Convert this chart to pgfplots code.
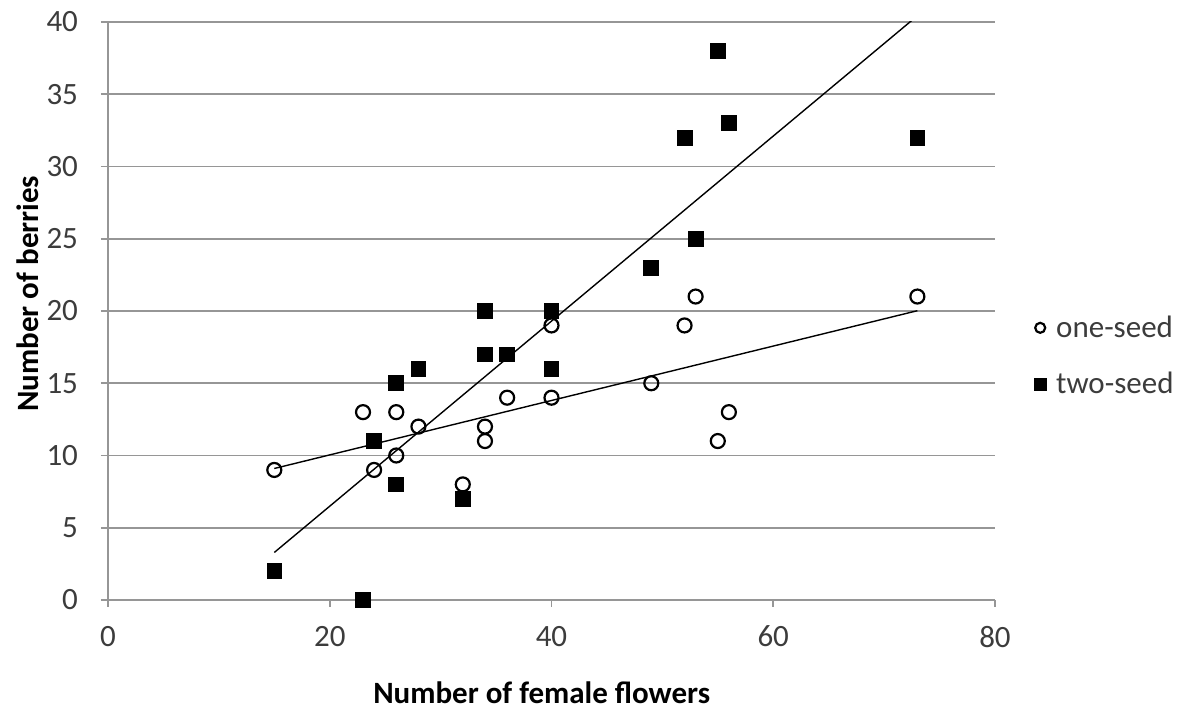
\documentclass[border=0pt]{standalone}
\usepackage{pgfplots}
\usepackage{pgfplotstable}
\pgfplotsset{compat=1.18}
\usepackage{fontspec}
\setmainfont{Carlito}

\definecolor{gridgray}{RGB}{150,150,150}
\definecolor{ticktext}{RGB}{60,60,60}

% a single, smaller mark in the legend
\pgfplotsset{small legend mark/.style={
  legend image code/.code={\draw[##1, mark size=#1] plot coordinates {(0.2cm,0cm)};}}}

% flowers, one-seed berries, two-seed berries
\pgfplotstableread{
flowers one two
15  9   2
23  13  0
24  9   11
26  13  15
26  10  8
28  12  16
32  8   7
34  12  20
34  11  17
36  14  17
40  19  20
40  14  16
49  15  23
52  19  32
53  21  25
55  11  38
56  13  33
73  21  32
}\berries

% least-squares trend lines (end points)
\pgfplotstableread{
x    y
15   9.10
73   20.02
}\trendone
\pgfplotstableread{
x    y
15   3.29
73   40.43
}\trendtwo

\begin{document}
\begin{tikzpicture}
\begin{axis}[
  scale only axis,
  width=443.5pt, height=289pt,
  xmin=0, xmax=80, ymin=0, ymax=40,
  xtick={0,20,...,80}, ytick={0,5,...,40},
  axis x line*=bottom, axis y line*=left,
  axis line style={gridgray, line width=0.9pt},
  ymajorgrids,
  grid style={gridgray, line width=0.9pt},
  tick style={gridgray, line width=0.9pt},
  tick align=outside, major tick length=3.5pt,
  /pgf/number format/assume math mode=true,
  tick label style={font=\fontsize{15.5}{18}\selectfont, text=ticktext},
  xticklabel style={yshift=-6pt},
  yticklabel style={xshift=-8pt},
  xlabel={Number of female flowers},
  ylabel={Number of berries},
  every axis x label/.style={at={(axis description cs:0.489,-0.16)}, anchor=center,
    font=\fontsize{15.5}{18}\selectfont\bfseries},
  every axis y label/.style={at={(axis description cs:-0.0902,0.53)}, rotate=90, anchor=center,
    font=\fontsize{15.5}{18}\selectfont\bfseries},
  clip mode=individual,
  legend style={draw=none, fill=none, at={(axis description cs:1.037,0.422)}, anchor=west,
    row sep=12pt, font=\fontsize{15.5}{18}\selectfont, text=ticktext,
    /tikz/every odd column/.append style={column sep=3pt}},
  legend cell align=left,
]
\addplot[black, line width=0.7pt, forget plot] table[x=x, y=y] {\trendone};
\addplot[black, line width=0.7pt, forget plot] table[x=x, y=y] {\trendtwo};

\addplot[only marks, mark=o, mark size=3.5pt, mark options={black, line width=1.1pt},
  small legend mark=2.5pt]
  table[x=flowers, y=one] {\berries};
\addlegendentry{one-seed}

\addplot[only marks, mark=square*, mark size=3.7pt, mark options={black},
  small legend mark=3pt]
  table[x=flowers, y=two] {\berries};
\addlegendentry{two-seed}
\end{axis}
\pgfresetboundingbox
\path[use as bounding box] (-54pt,-55.5pt) rectangle (538.5pt,300pt);
\end{tikzpicture}
\end{document}
